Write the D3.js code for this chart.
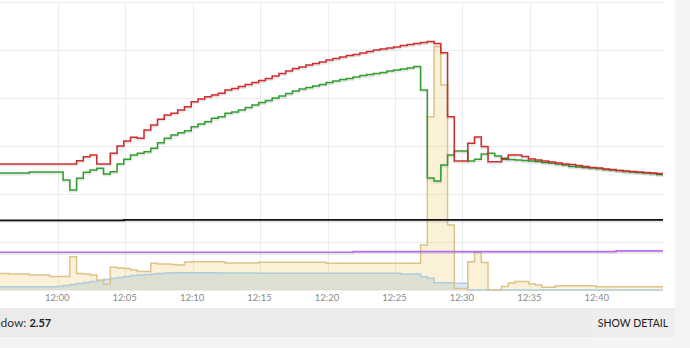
<!DOCTYPE html>
<html>
<head>
<meta charset="utf-8">
<script src="https://cdn.jsdelivr.net/npm/d3@7"></script>
<style>
  html, body { margin: 0; padding: 0; background: #f4f4f4; }
  svg { display: block; font-family: Lato, "Open Sans", sans-serif; }
</style>
</head>
<body>
<svg id="chart" width="690" height="348"></svg>
<script>
// Heat pump window: samples every 30 s
var startTime = "11:55:24";
var stepSeconds = 30;

// flow temperature (red), degC
var flowT = [
  26.25, 26.25, 26.25, 26.25, 26.25, 26.25, 26.25, 26.25, 26.25, 26.25,
  26.25, 26.25, 26.94, 27.77, 28.13, 26.25, 26.25, 28.48, 30.0, 31.04,
  31.81, 31.6, 33.33, 34.38, 35.56, 36.46, 36.81, 37.5, 38.19, 39.23,
  39.79, 40.27, 40.63, 40.98, 41.67, 41.98, 42.4, 42.81, 43.23, 43.65,
  44.06, 44.58, 45.1, 45.63, 46.15, 46.46, 46.88, 47.19, 47.5, 47.92,
  48.23, 48.54, 48.85, 49.06, 49.38, 49.69, 50.0, 50.21, 50.42, 50.63,
  50.94, 51.15, 51.35, 51.56, 51.77, 51.35, 49.44, 36.1, 26.88, 26.88,
  30.56, 31.88, 29.9, 26.73, 26.73, 27.44, 28.13, 28.13, 27.81, 27.29,
  27.08, 26.88, 26.67, 26.46, 26.25, 26.15, 25.94, 25.73, 25.52, 25.42,
  25.21, 25.1, 24.9, 24.79, 24.69, 24.58, 24.48, 24.38, 24.27, 24.17
];

// return temperature (green), degC
var returnT = [
  24.38, 24.38, 24.38, 24.38, 24.38, 24.58, 24.58, 24.58, 24.58, 24.58,
  22.92, 20.83, 23.27, 24.52, 25.0, 25.35, 24.17, 24.65, 26.25, 27.23,
  28.13, 28.48, 28.81, 29.52, 30.69, 31.6, 32.29, 32.77, 33.19, 34.02,
  34.58, 35.06, 35.77, 36.1, 36.81, 37.08, 37.5, 38.02, 38.54, 39.06,
  39.48, 40.0, 40.42, 40.94, 41.46, 41.88, 42.19, 42.5, 42.81, 43.23,
  43.54, 43.85, 44.06, 44.38, 44.69, 44.9, 45.1, 45.31, 45.63, 45.83,
  46.04, 46.25, 46.56, 41.67, 23.33, 22.71, 26.04, 28.13, 28.96, 28.96,
  26.88, 27.23, 28.33, 28.48, 27.92, 27.23, 27.19, 27.08, 26.98, 26.88,
  26.77, 26.56, 26.46, 26.25, 26.04, 25.73, 25.63, 25.52, 25.42, 25.31,
  25.1, 25.0, 24.9, 24.69, 24.58, 24.48, 24.38, 24.27, 24.06, 23.96
];

// heat output (tan area), W
var heatW = [
  344, 344, 333, 333, 333, 313, 313, 313, 281, 281,
  281, 694, 344, 333, 313, 208, 125, 473, 458, 448,
  417, 385, 385, 556, 542, 542, 531, 521, 583, 590,
  590, 590, 590, 590, 563, 563, 563, 563, 563, 577,
  577, 577, 577, 577, 577, 577, 577, 577, 577, 556,
  556, 556, 556, 556, 556, 556, 556, 556, 556, 556,
  556, 556, 556, 938, 3610, 5069, 4271, 1354, 31, 31,
  590, 785, 573, 0, 0, 73, 146, 177, 177, 125,
  104, 56, 56, 90, 90, 90, 90, 90, 90, 69,
  69, 69, 69, 69, 69, 69, 69, 69, 69, 69
];

// electric input (blue area), W
var elecW = [
  69, 69, 69, 69, 69, 69, 69, 69, 69, 73,
  94, 115, 135, 156, 177, 198, 219, 240, 260, 281,
  302, 313, 323, 333, 344, 354, 358, 358, 358, 358,
  358, 358, 358, 354, 354, 354, 354, 354, 354, 350,
  350, 350, 350, 350, 350, 350, 350, 350, 350, 350,
  350, 350, 350, 350, 350, 350, 350, 350, 350, 350,
  333, 333, 333, 277, 244, 152, 152, 152, 140, 140,
  0, 0, 0, 0, 0, 0, 0, 0, 0, 0,
  0, 0, 0, 0, 0, 0, 0, 0, 0, 0,
  0, 0, 0, 0, 0, 0, 0, 0, 0, 0
];

// slow series logged at change points
var roomTimes = ["11:55:24", "12:04:54", "12:45:24"];
var roomT = [14.52, 14.6, 14.6];
var outsideTimes = ["11:55:24", "12:21:54", "12:41:24", "12:45:24"];
var outsideT = [7.85, 8.0, 8.15, 8.15];

var tickLabels = ["12:00", "12:05", "12:10", "12:15", "12:20", "12:25", "12:30", "12:35", "12:40"];
var copWindow = 2.57;

var svg = d3.select("#chart");
var parseSec = d3.timeParse("%H:%M:%S");
var parseMin = d3.timeParse("%H:%M");

var t0 = parseSec(startTime);
var sampleTimes = flowT.map((v, i) => new Date(t0.getTime() + i * stepSeconds * 1000));
var ticks = tickLabels.map(parseMin);

var plot = { left: 0, right: 663, top: 2, bottom: 290 };

var x = d3.scaleTime()
  .domain([ticks[0], ticks[ticks.length - 1]])
  .range([57.7, 597.3]);
var yT = d3.scaleLinear().domain([0, 60]).range([plot.bottom, plot.top]);
var yP = d3.scaleLinear().domain([0, 6000]).range([plot.bottom, plot.top]);

// page + card
svg.append("rect").attr("width", 690).attr("height", 348).attr("fill", "#f4f4f4");
svg.append("rect").attr("x", 0).attr("y", 0).attr("width", 675).attr("height", 308).attr("fill", "#fff");

svg.append("defs").append("clipPath").attr("id", "plotclip")
  .append("rect")
  .attr("x", plot.left).attr("y", 0)
  .attr("width", plot.right - plot.left).attr("height", plot.bottom + 1);

// grid
var grid = svg.append("g").attr("stroke", "#ececec").attr("stroke-width", 1);
grid.selectAll("line.h")
  .data(yT.ticks(6))
  .enter().append("line")
  .attr("x1", plot.left).attr("x2", plot.right)
  .attr("y1", d => Math.round(yT(d)) + 0.5)
  .attr("y2", d => Math.round(yT(d)) + 0.5);
grid.selectAll("line.v")
  .data(ticks)
  .enter().append("line")
  .attr("x1", d => Math.round(x(d)) + 0.5)
  .attr("x2", d => Math.round(x(d)) + 0.5)
  .attr("y1", plot.top).attr("y2", plot.bottom);

var g = svg.append("g").attr("clip-path", "url(#plotclip)");

function seriesOf(values) {
  return values.map((v, i) => ({ t: sampleTimes[i], v: v }));
}
function changeSeries(times, values) {
  return values.map((v, i) => ({ t: parseSec(times[i]), v: v }));
}

var areaP = d3.area().curve(d3.curveStepAfter)
  .x(d => x(d.t)).y0(plot.bottom).y1(d => yP(d.v));
var lineP = d3.line().curve(d3.curveStepAfter)
  .x(d => x(d.t)).y(d => yP(d.v));
var lineT = d3.line().curve(d3.curveStepAfter)
  .x(d => x(d.t)).y(d => yT(d.v));

var elec = seriesOf(elecW);
var heat = seriesOf(heatW);

g.append("path").attr("d", areaP(elec)).attr("fill", "#d5e9f6");
g.append("path").attr("d", areaP(heat)).attr("fill", "rgba(240, 200, 100, 0.25)");
g.append("path").attr("d", lineP(elec)).attr("fill", "none")
  .attr("stroke", "#afcbdd").attr("stroke-width", 1.5);
g.append("path").attr("d", lineP(heat)).attr("fill", "none")
  .attr("stroke", "#dcc38a").attr("stroke-width", 1.5);

function drawLine(data, color, width) {
  g.append("path").attr("d", lineT(data)).attr("fill", "none")
    .attr("transform", "translate(0,1.5)")
    .attr("stroke", "rgba(0,0,0,0.1)").attr("stroke-width", 2);
  g.append("path").attr("d", lineT(data)).attr("fill", "none")
    .attr("stroke", color).attr("stroke-width", width);
}

drawLine(changeSeries(roomTimes, roomT), "#111", 1.8);
drawLine(changeSeries(outsideTimes, outsideT), "#b46ff2", 1.6);
drawLine(seriesOf(returnT), "#2f9e2f", 1.5);
drawLine(seriesOf(flowT), "#cf2b2b", 1.5);

// x axis labels
var xAxis = d3.axisBottom(x)
  .tickValues(ticks)
  .tickFormat(d3.timeFormat("%H:%M"))
  .tickSize(0)
  .tickPadding(0);
var axisG = svg.append("g")
  .attr("transform", `translate(0, ${plot.bottom + 4})`)
  .call(xAxis);
axisG.select(".domain").remove();
axisG.selectAll("text")
  .attr("fill", "#8a8a8a")
  .attr("font-size", "9.5px")
  .attr("font-family", "Lato, sans-serif")
  .attr("dx", "-1");

// stats bar
svg.append("rect").attr("x", 0).attr("y", 308).attr("width", 675).attr("height", 29).attr("fill", "#ebebeb");
svg.append("rect").attr("x", 592).attr("y", 308).attr("width", 83).attr("height", 29).attr("fill", "#eeeeee");

var label = "COP in window: ";
var probe = svg.append("text").attr("font-size", "12px").text("COP in win");
var prefixW = probe.node().getComputedTextLength();
probe.remove();

var stat = svg.append("text")
  .attr("x", 0.5 - prefixW)
  .attr("y", 327)
  .attr("font-size", "12px")
  .attr("fill", "#333");
stat.append("tspan").text(label);
stat.append("tspan").attr("font-weight", "bold").attr("font-size", "11px")
  .attr("fill", "#222").text(copWindow);

svg.append("text")
  .attr("x", 633)
  .attr("y", 327)
  .attr("text-anchor", "middle")
  .attr("font-size", "10.5px")
  .attr("fill", "#222")
  .text("SHOW DETAIL");
</script>
</body>
</html>
